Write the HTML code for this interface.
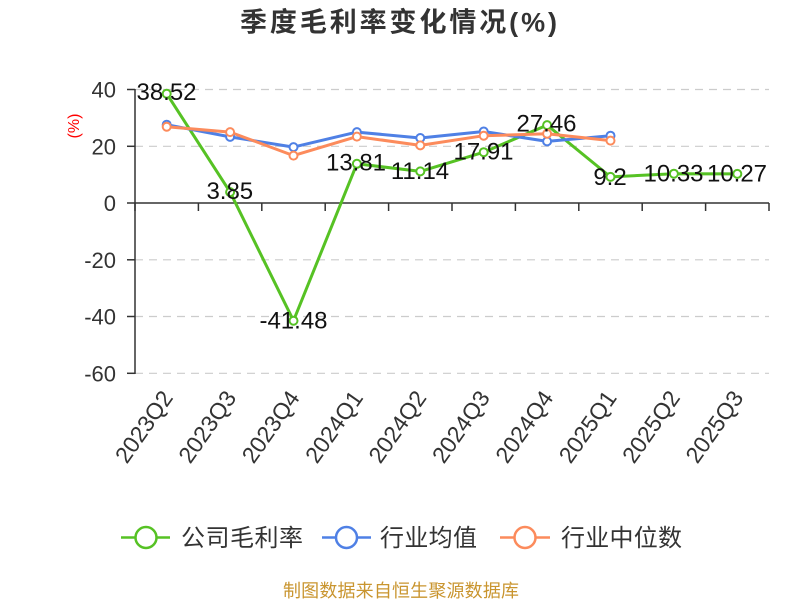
<!DOCTYPE html>
<html>
<head>
<meta charset="utf-8">
<style>
  html, body { margin: 0; padding: 0; background: #ffffff; }
  body { width: 800px; height: 600px; overflow: hidden; }
  svg { display: block; }
  .t { font-family: "Liberation Sans", "Noto Sans CJK SC", sans-serif; }
</style>
</head>
<body>
<svg width="800" height="600" viewBox="0 0 800 600" xmlns="http://www.w3.org/2000/svg">
  <rect width="800" height="600" fill="#ffffff"/>

  <!-- Title -->
  <text class="t" x="240" y="31.5" font-size="27" font-weight="bold" fill="#333333" textLength="317" lengthAdjust="spacing">季度毛利率变化情况(%)</text>

  <!-- Y unit label -->
  <text class="t" transform="translate(79,126) rotate(-90)" text-anchor="middle" font-size="16" fill="#ff0000">(%)</text>

  <!-- Grid lines (dashed) -->
  <g stroke="#cccccc" stroke-width="1.2" stroke-dasharray="8,6" fill="none">
    <line x1="135" y1="89.5" x2="769" y2="89.5"/>
    <line x1="135" y1="146.3" x2="769" y2="146.3"/>
    <line x1="135" y1="259.8" x2="769" y2="259.8"/>
    <line x1="135" y1="316.5" x2="769" y2="316.5"/>
    <line x1="135" y1="373.3" x2="769" y2="373.3"/>
  </g>

  <!-- Y axis -->
  <g stroke="#333333" stroke-width="1.5" fill="none">
    <line x1="135" y1="89" x2="135" y2="374"/>
    <line x1="127" y1="89.5" x2="135" y2="89.5"/>
    <line x1="127" y1="146.3" x2="135" y2="146.3"/>
    <line x1="127" y1="203" x2="135" y2="203"/>
    <line x1="127" y1="259.8" x2="135" y2="259.8"/>
    <line x1="127" y1="316.5" x2="135" y2="316.5"/>
    <line x1="127" y1="373.3" x2="135" y2="373.3"/>
  </g>

  <!-- Y tick labels -->
  <g class="t" font-size="22" fill="#333333" text-anchor="end">
    <text x="116" y="97.5">40</text>
    <text x="116" y="154.3">20</text>
    <text x="116" y="211">0</text>
    <text x="116" y="267.8">-20</text>
    <text x="116" y="324.5">-40</text>
    <text x="116" y="381.3">-60</text>
  </g>

  <!-- X axis (at zero) -->
  <g stroke="#333333" stroke-width="1.5" fill="none">
    <line x1="135" y1="203" x2="769" y2="203"/>
    <line x1="135" y1="203" x2="135" y2="211"/>
    <line x1="198.4" y1="203" x2="198.4" y2="211"/>
    <line x1="261.8" y1="203" x2="261.8" y2="211"/>
    <line x1="325.2" y1="203" x2="325.2" y2="211"/>
    <line x1="388.6" y1="203" x2="388.6" y2="211"/>
    <line x1="452" y1="203" x2="452" y2="211"/>
    <line x1="515.4" y1="203" x2="515.4" y2="211"/>
    <line x1="578.8" y1="203" x2="578.8" y2="211"/>
    <line x1="642.2" y1="203" x2="642.2" y2="211"/>
    <line x1="705.6" y1="203" x2="705.6" y2="211"/>
    <line x1="769" y1="203" x2="769" y2="211"/>
  </g>

  <!-- X labels -->
  <g class="t" font-size="23" fill="#333333" text-anchor="end">
    <text transform="translate(167,393) rotate(-55)" dy="0.36em">2023Q2</text>
    <text transform="translate(230.4,393) rotate(-55)" dy="0.36em">2023Q3</text>
    <text transform="translate(293.8,393) rotate(-55)" dy="0.36em">2023Q4</text>
    <text transform="translate(357.2,393) rotate(-55)" dy="0.36em">2024Q1</text>
    <text transform="translate(420.6,393) rotate(-55)" dy="0.36em">2024Q2</text>
    <text transform="translate(484,393) rotate(-55)" dy="0.36em">2024Q3</text>
    <text transform="translate(547.4,393) rotate(-55)" dy="0.36em">2024Q4</text>
    <text transform="translate(610.8,393) rotate(-55)" dy="0.36em">2025Q1</text>
    <text transform="translate(674.2,393) rotate(-55)" dy="0.36em">2025Q2</text>
    <text transform="translate(737.6,393) rotate(-55)" dy="0.36em">2025Q3</text>
  </g>

  <!-- Series: company (green) -->
  <polyline fill="none" stroke="#56c224" stroke-width="3" stroke-linejoin="round"
    points="166.7,93.7 230.1,192.1 293.5,320.7 356.9,163.8 420.3,171.4 483.7,152.2 547.1,125.1 610.5,176.9 673.9,173.7 737.3,173.9"/>

  <!-- Series: industry avg (blue) -->
  <polyline fill="none" stroke="#4f80e5" stroke-width="3" stroke-linejoin="round"
    points="166.7,124.7 230.1,136.9 293.5,147.1 356.9,132.1 420.3,138.0 483.7,131.5 547.1,141.4 610.5,135.7"/>

  <!-- Series: industry median (orange) -->
  <polyline fill="none" stroke="#fc8b5c" stroke-width="3" stroke-linejoin="round"
    points="166.7,126.7 230.1,132.1 293.5,155.6 356.9,136.6 420.3,145.4 483.7,135.7 547.1,133.8 610.5,140.6"/>

  <!-- Symbols -->
  <g fill="#ffffff" stroke="#56c224" stroke-width="2">
    <circle cx="166.7" cy="93.7" r="4"/>
    <circle cx="230.1" cy="192.1" r="4"/>
    <circle cx="293.5" cy="320.7" r="4"/>
    <circle cx="356.9" cy="163.8" r="4"/>
    <circle cx="420.3" cy="171.4" r="4"/>
    <circle cx="483.7" cy="152.2" r="4"/>
    <circle cx="547.1" cy="125.1" r="4"/>
    <circle cx="610.5" cy="176.9" r="4"/>
    <circle cx="673.9" cy="173.7" r="4"/>
    <circle cx="737.3" cy="173.9" r="4"/>
  </g>
  <g fill="#ffffff" stroke="#4f80e5" stroke-width="2">
    <circle cx="166.7" cy="124.7" r="4"/>
    <circle cx="230.1" cy="136.9" r="4"/>
    <circle cx="293.5" cy="147.1" r="4"/>
    <circle cx="356.9" cy="132.1" r="4"/>
    <circle cx="420.3" cy="138.0" r="4"/>
    <circle cx="483.7" cy="131.5" r="4"/>
    <circle cx="547.1" cy="141.4" r="4"/>
    <circle cx="610.5" cy="135.7" r="4"/>
  </g>
  <g fill="#ffffff" stroke="#fc8b5c" stroke-width="2">
    <circle cx="166.7" cy="126.7" r="4"/>
    <circle cx="230.1" cy="132.1" r="4"/>
    <circle cx="293.5" cy="155.6" r="4"/>
    <circle cx="356.9" cy="136.6" r="4"/>
    <circle cx="420.3" cy="145.4" r="4"/>
    <circle cx="483.7" cy="135.7" r="4"/>
    <circle cx="547.1" cy="133.8" r="4"/>
    <circle cx="610.5" cy="140.6" r="4"/>
  </g>

  <!-- Data labels (company) -->
  <g class="t" font-size="24" fill="#111111" text-anchor="middle">
    <text x="166.5" y="100">38.52</text>
    <text x="229.8" y="199">3.85</text>
    <text x="293.5" y="328.5">-41.48</text>
    <text x="356" y="170.5">13.81</text>
    <text x="420" y="179">11.14</text>
    <text x="483.5" y="159.5">17.91</text>
    <text x="546.5" y="131.5">27.46</text>
    <text x="610" y="185">9.2</text>
    <text x="673.5" y="181.5">10.33</text>
    <text x="737" y="181.5">10.27</text>
  </g>

  <!-- Legend -->
  <g fill="#ffffff" stroke-width="2.5">
    <line x1="121" y1="537.5" x2="170" y2="537.5" stroke="#56c224"/>
    <circle cx="146" cy="537.5" r="10.5" stroke="#56c224"/>
    <line x1="322" y1="537.5" x2="371" y2="537.5" stroke="#4f80e5"/>
    <circle cx="346.5" cy="537.5" r="10.5" stroke="#4f80e5"/>
    <line x1="500" y1="537.5" x2="550" y2="537.5" stroke="#fc8b5c"/>
    <circle cx="525" cy="537.5" r="10.5" stroke="#fc8b5c"/>
  </g>
  <g class="t" font-size="24" fill="#333333">
    <text x="181" y="546" textLength="122" lengthAdjust="spacing">公司毛利率</text>
    <text x="380" y="546" textLength="97" lengthAdjust="spacing">行业均值</text>
    <text x="561" y="546" textLength="121" lengthAdjust="spacing">行业中位数</text>
  </g>

  <!-- Footer -->
  <text class="t" x="283" y="597" font-size="18" fill="#c9952f" textLength="236" lengthAdjust="spacing">制图数据来自恒生聚源数据库</text>
</svg>
</body>
</html>
